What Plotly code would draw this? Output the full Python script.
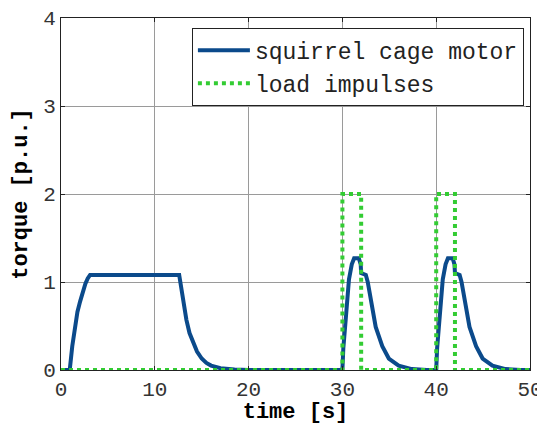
import plotly.graph_objects as go

motor_time = [0, 0.93, 1.2, 1.48, 1.75, 2.04, 2.3, 2.6, 2.85, 3.1,
              12.6, 12.8, 13.0, 13.37, 13.7, 14.1, 14.5, 15.0, 15.5, 16.0, 17.0, 18.5, 20.0,
              30.0, 30.1, 30.35, 30.7, 31.0, 31.25, 31.75, 31.95, 32.0, 32.5, 32.7, 33.0, 33.55,
              34.25, 34.95, 36.0, 37.4, 39.0,
              40.0, 40.1, 40.35, 40.7, 41.0, 41.25, 41.75, 41.95, 42.0, 42.5, 42.7, 43.0, 43.55,
              44.25, 44.95, 46.0, 47.4, 49.0, 50.0]
motor_torque = [0, 0, 0.27, 0.51, 0.66, 0.78, 0.89, 0.98, 1.04, 1.08,
                1.08, 0.95, 0.8, 0.57, 0.42, 0.30, 0.21, 0.13, 0.08, 0.05, 0.02, 0.005, 0,
                0, 0.25, 0.57, 1.03, 1.2, 1.27, 1.27, 1.2, 1.1, 1.08, 1.0, 0.8, 0.49,
                0.27, 0.13, 0.05, 0.01, 0,
                0, 0.25, 0.57, 1.03, 1.2, 1.27, 1.27, 1.2, 1.1, 1.08, 1.0, 0.8, 0.49,
                0.27, 0.13, 0.05, 0.01, 0, 0]

load_time = [0, 30, 30, 32, 32, 40, 40, 42, 42, 50]
load_torque = [0, 0, 2, 2, 0, 0, 2, 2, 0, 0]

x_ticks = [0, 10, 20, 30, 40, 50]
y_ticks = [0, 1, 2, 3, 4]

mono = "Liberation Mono"

fig = go.Figure()
fig.add_trace(go.Scatter(x=motor_time, y=motor_torque, mode="lines",
                         name="squirrel cage motor",
                         line=dict(color="#0b4a8b", width=4)))
fig.add_trace(go.Scatter(x=load_time, y=load_torque, mode="lines",
                         name="load impulses",
                         line=dict(color="#33cc33", width=4, dash="dot")))

axis_common = dict(showgrid=True, gridcolor="#9a9a9a", gridwidth=1,
                   showline=True, linecolor="#222222", linewidth=1, mirror="ticks",
                   ticks="inside", ticklen=4, tickcolor="#222222",
                   tickfont=dict(family=mono, size=21, color="#333333"),
                   zeroline=False, automargin=False)

# page has an 8px body margin, so the figure is sized to fit the 545x425 window
fig.update_layout(
    width=537, height=417,
    margin=dict(l=53, r=15, t=10, b=55),
    paper_bgcolor="white", plot_bgcolor="white",
    showlegend=True,
    legend=dict(x=0.987, y=0.972, xanchor="right", yanchor="top",
                bgcolor="white", bordercolor="#222222", borderwidth=1,
                font=dict(family=mono, size=23, color="#222222"),
                itemwidth=52, tracegroupgap=0),
    xaxis=dict(range=[0, 50], tickvals=x_ticks,
               title=dict(text="<b>time [s]</b>", font=dict(family=mono, size=22, color="black"), standoff=5),
               **axis_common),
    yaxis=dict(range=[0, 4], tickvals=y_ticks,
               title=dict(text="<b>torque [p.u.]</b>", font=dict(family=mono, size=22, color="black"), standoff=9),
               **axis_common),
)

fig.write_html("out.html")
